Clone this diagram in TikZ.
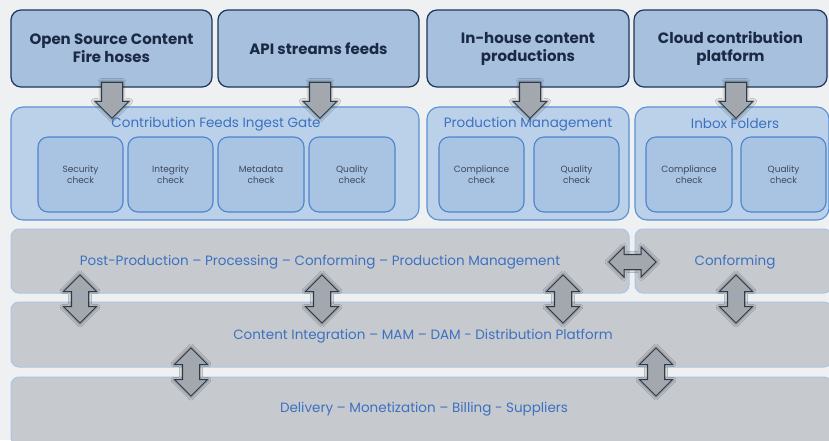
\documentclass[tikz,border=0pt]{standalone}
\usepackage{fontspec}
\setmainfont{Poppins}
\usetikzlibrary{shapes.arrows,shadows.blur}
\definecolor{bg}{HTML}{EEF0F1}
\definecolor{topfill}{HTML}{A6C0DE}
\definecolor{topdraw}{HTML}{1E3557}
\definecolor{toptext}{HTML}{1B2A44}
\definecolor{confill}{HTML}{BBD1E9}
\definecolor{condraw}{HTML}{5A8FD2}
\definecolor{infill}{HTML}{A9C3E2}
\definecolor{indraw}{HTML}{4D85CC}
\definecolor{intext}{HTML}{3E4A5C}
\definecolor{bluetext}{HTML}{3C71C1}
\definecolor{bandfill}{HTML}{C6CACE}
\definecolor{banddraw}{HTML}{A9C5E3}
\definecolor{arrfill}{HTML}{A3A8AF}
\definecolor{arrdraw}{HTML}{2F3A4A}
\tikzset{
  topbox/.style={draw=topdraw, fill=topfill, rounded corners=10pt, line width=1.2pt,
    minimum height=77pt, align=center, inner sep=0pt, outer sep=0pt,
    font=\bfseries\fontsize{15}{18}\selectfont, text=toptext},
  container/.style={draw=condraw, fill=confill, rounded corners=12pt, line width=1.1pt,
    minimum height=113pt, inner sep=0pt, outer sep=0pt},
  ctitle/.style={font=\fontsize{13.5}{16}\selectfont, text=bluetext, inner sep=0pt},
  checkbox/.style={draw=indraw, fill=infill, rounded corners=10pt, line width=1.1pt,
    minimum height=75pt, align=center, inner sep=0pt, outer sep=0pt,
    font=\fontsize{9}{11}\selectfont, text=intext},
  band/.style={draw=banddraw, fill=bandfill, rounded corners=8pt, line width=1pt,
    inner sep=0pt, outer sep=0pt},
  btext/.style={font=\fontsize{13.5}{16}\selectfont, text=bluetext, inner sep=0pt},
  arrlook/.style={draw=arrdraw, fill=arrfill, line width=1pt,
    blur shadow={shadow xshift=0pt, shadow yshift=0pt, shadow blur radius=2.5pt, shadow opacity=45, shadow scale=1.06}},
  downarrow/.style={single arrow, arrlook,
    inner xsep=10pt, inner ysep=0pt, shape border rotate=270, minimum height=36pt, minimum width=33pt,
    single arrow head extend=6.5pt, single arrow head indent=0pt},
  vdarrow/.style={double arrow, arrlook,
    inner xsep=8pt, inner ysep=0pt, shape border rotate=90, minimum height=48pt, minimum width=32pt,
    double arrow head extend=8pt},
  hdarrow/.style={double arrow, arrlook,
    inner xsep=0pt, inner ysep=7pt, minimum height=47pt, minimum width=29pt,
    double arrow head extend=7.5pt}
}
\begin{document}
\begin{tikzpicture}[x=1pt,y=-1pt]
\useasboundingbox (0,0) rectangle (829,440);
\fill[bg] (0,0) rectangle (829,440);

% bands
\node[band, minimum width=618pt, minimum height=64pt] (g1) at (320,261) {};
\node[band, minimum width=197pt, minimum height=64pt] (g2) at (733.5,261) {};
\node[band, minimum width=821pt, minimum height=65pt] (g3) at (421.5,334.5) {};
\node[band, minimum width=821pt, minimum height=68pt] (g4) at (421.5,411) {};
\node[btext] (g1t) at (320,262) {Post-Production – Processing – Conforming – Production Management};
\node[btext] (g2t) at (735,262) {Conforming};
\node[btext] (g3t) at (423,336) {Content Integration – MAM – DAM - Distribution Platform};
\node[btext] (g4t) at (424,409) {Delivery – Monetization – Billing - Suppliers};

% containers
\node[container, minimum width=408pt] (c1) at (215,163.5) {};
\node[container, minimum width=202pt] (c2) at (528,163.5) {};
\node[container, minimum width=194pt] (c3) at (732,163.5) {};
\node[ctitle] (c1t) at (216,124) {Contribution Feeds Ingest Gate};
\node[ctitle] (c2t) at (528,124) {Production Management};
\node[ctitle] (c3t) at (735,124) {Inbox Folders};

\node[checkbox, minimum width=85pt] (i1) at (80.5,174.5) {Security\\check};
\node[checkbox, minimum width=85pt] (i2) at (170.5,174.5) {Integrity\\check};
\node[checkbox, minimum width=86pt] (i3) at (261,174.5) {Metadata\\check};
\node[checkbox, minimum width=86pt] (i4) at (352,174.5) {Quality\\check};
\node[checkbox, minimum width=85pt] (p1) at (481.5,174.5) {Compliance\\check};
\node[checkbox, minimum width=85pt] (p2) at (576.5,174.5) {Quality\\check};
\node[checkbox, minimum width=86pt] (f1) at (689,174.5) {Compliance\\check};
\node[checkbox, minimum width=85pt] (f2) at (783.5,174.5) {Quality\\check};

% top boxes
\node[topbox, minimum width=201pt] (b1) at (111.5,48.5) {Open Source Content\\Fire hoses};
\node[topbox, minimum width=201pt] (b2) at (318.5,48.5) {API streams feeds};
\node[topbox, minimum width=202pt] (b3) at (528,48.5) {In-house content\\productions};
\node[topbox, minimum width=193pt] (b4) at (730.5,48.5) {Cloud contribution\\platform};

% arrows
\node[downarrow] (a1) at (112,95) {};
\node[downarrow] (a2) at (320,95) {};
\node[downarrow] (a3) at (530,95) {};
\node[downarrow] (a4) at (736,95) {};

\node[vdarrow] (d1) at (80,299) {};
\node[vdarrow] (d2) at (322,299) {};
\node[vdarrow] (d3) at (563,299) {};
\node[vdarrow] (d4) at (736,299) {};
\node[vdarrow] (d5) at (191,372) {};
\node[vdarrow] (d6) at (656,372) {};
\node[hdarrow] (h1) at (632.5,262) {};
\end{tikzpicture}
\end{document}
